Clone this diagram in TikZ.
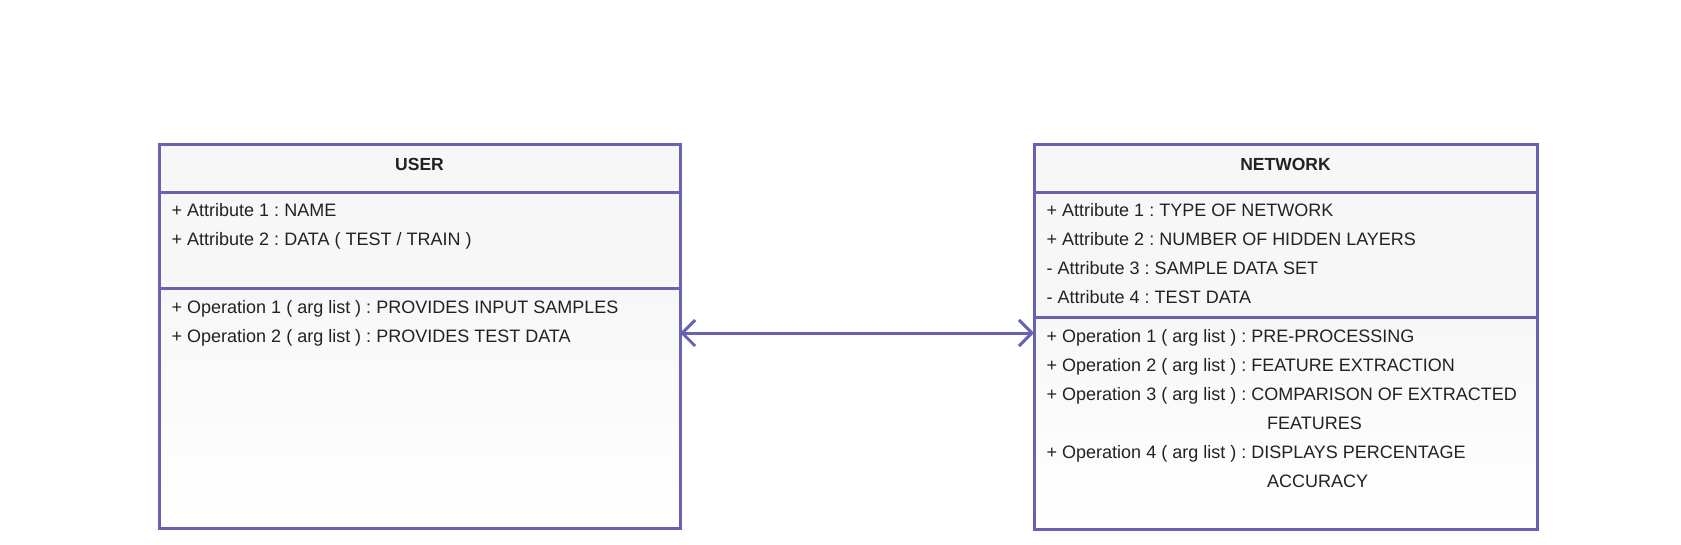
\documentclass[tikz,border=0pt]{standalone}
\usepackage{fontspec}
\setmainfont{Liberation Sans}
\usepackage{tikz}
\usetikzlibrary{positioning,arrows.meta}
\usepackage{xcolor}
\definecolor{umlblue}{RGB}{104,98,180}
\definecolor{boxgray}{RGB}{247,247,247}
\definecolor{umltext}{RGB}{34,34,34}
\frenchspacing

\begin{document}
\begin{tikzpicture}[x=1pt,y=-1pt,
  part/.style={draw=umlblue,line width=3pt,rectangle,inner sep=0pt,outer sep=0pt,anchor=north west,fill=boxgray},
  oppart/.style={part,top color=boxgray,bottom color=white},
  classname/.style={font=\bfseries\fontsize{17.5}{21}\selectfont,text=umltext,inner sep=0pt,anchor=base},
  member/.style={font=\fontsize{18}{22}\selectfont,text=umltext,inner sep=0pt,anchor=base west,text height=13pt,text depth=4pt},
  assoc/.style={draw=umlblue,line width=3pt,{Straight Barb[length=13pt,width=26pt]}-{Straight Barb[length=13pt,width=26pt]}}]
\useasboundingbox (0,0) rectangle (1681,544);
% USER class
\node[part,minimum width=521pt,minimum height=48pt] (userhead) at (159,144) {};
\node[part,minimum width=521pt,minimum height=96pt] (userattr) at (159,192) {};
\node[oppart,minimum width=521pt,minimum height=240pt] (userops) at (159,288) {};
\node[classname] (usertitle) at (419.5,170.5) {USER};
\node[member] (useratt1) at (171.5,216.5) {+ Attribute 1 : NAME};
\node[member] (useratt2) at (171.5,245.5) {+ Attribute 2 : DATA ( TEST / TRAIN )};
\node[member] (userop1) at (171.5,313.5) {+ Operation 1 ( arg list ) : PROVIDES INPUT SAMPLES};
\node[member] (userop2) at (171.5,342.5) {+ Operation 2 ( arg list ) : PROVIDES TEST DATA};
% NETWORK class
\node[part,minimum width=503pt,minimum height=48pt] (nethead) at (1034,144) {};
\node[part,minimum width=503pt,minimum height=125pt] (netattr) at (1034,192) {};
\node[oppart,minimum width=503pt,minimum height=212pt] (netops) at (1034,317) {};
\node[classname] (nettitle) at (1285.5,170.5) {NETWORK};
\node[member] (netatt1) at (1046.5,216.5) {+ Attribute 1 : TYPE OF NETWORK};
\node[member] (netatt2) at (1046.5,245.5) {+ Attribute 2 : NUMBER OF HIDDEN LAYERS};
\node[member] (netatt3) at (1046.5,274.5) {- Attribute 3 : SAMPLE DATA SET};
\node[member] (netatt4) at (1046.5,303.5) {- Attribute 4 : TEST DATA};
\node[member] (netop1) at (1046.5,342) {+ Operation 1 ( arg list ) : PRE-PROCESSING};
\node[member] (netop2) at (1046.5,371) {+ Operation 2 ( arg list ) : FEATURE EXTRACTION};
\node[member] (netop3) at (1046.5,400) {+ Operation 3 ( arg list ) : COMPARISON OF EXTRACTED};
\node[member] (netop3b) at (1267,429) {FEATURES};
\node[member] (netop4) at (1046.5,458) {+ Operation 4 ( arg list ) : DISPLAYS PERCENTAGE};
\node[member] (netop4b) at (1267,487) {ACCURACY};
% Association
\coordinate (assocy) at ([yshift=4.5pt]netop1.west);
\draw[assoc] (userops.east |- assocy) -- (netops.west |- assocy);
\end{tikzpicture}
\end{document}
